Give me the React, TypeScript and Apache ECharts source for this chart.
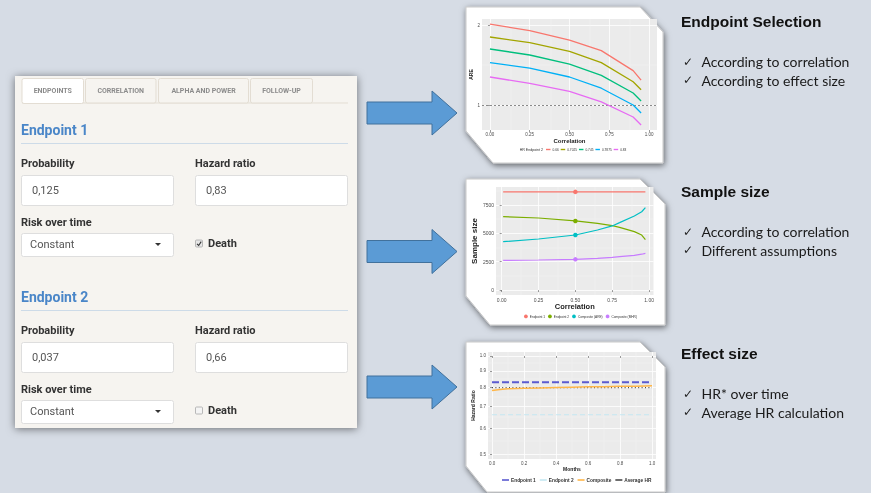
import React, { useEffect, useRef } from "react";
import * as echarts from "echarts";

// ---------- data: chart 1 (ARE vs correlation) ----------
const areCorr = [0, 0.25, 0.5, 0.7, 0.9, 0.95];
const areHR2 = ["0.66", "0.7025", "0.745", "0.7875", "0.83"];
const areValues = [
  [2.01, 1.93, 1.81, 1.68, 1.43, 1.31],
  [1.85, 1.78, 1.67, 1.53, 1.29, 1.19],
  [1.7, 1.625, 1.51, 1.37, 1.15, 1.05],
  [1.53, 1.46, 1.35, 1.21, 1.0, 0.9],
  [1.35, 1.27, 1.17, 1.04, 0.85, 0.75],
];
const areTicksX = [0, 0.25, 0.5, 0.75, 1];
const areTicksY = [1, 2];

// ---------- data: chart 2 (sample size vs correlation) ----------
const ssCorr = [0.01, 0.25, 0.5, 0.65, 0.75, 0.8, 0.9, 0.95, 0.975];
const ssNames = ["Endpoint 1", "Endpoint 2", "Composite (ARE)", "Composite (MHR)"];
const ssEndpoint1 = [8650, 8650, 8650, 8650, 8650, 8650, 8650, 8650, 8650];
const ssEndpoint2 = [6470, 6350, 6090, 5880, 5680, 5530, 5150, 4850, 4450];
const ssCompARE = [4265, 4500, 4850, 5290, 5650, 5940, 6530, 6900, 7265];
const ssCompMHR = [2620, 2650, 2710, 2790, 2880, 2940, 3060, 3160, 3240];
const ssTicksX = [0, 0.25, 0.5, 0.75, 1];
const ssTicksY = [0, 2500, 5000, 7500];

// ---------- data: chart 3 (hazard ratio over time) ----------
const hrMonths = [0, 0.05, 0.1, 0.2, 0.3, 0.4, 0.5, 0.6, 0.7, 0.8, 0.9, 1.0];
const hrComposite = [0.783, 0.789, 0.793, 0.796, 0.798, 0.8, 0.802, 0.804, 0.805, 0.807, 0.808, 0.81];
const hrEndpoint1 = [0.83, 0.83];
const hrEndpoint2 = [0.66, 0.66];
const hrAverage = [0.8, 0.8];
const hrSpan = [0, 1];
const hrNames = ["Endpoint 1", "Endpoint 2", "Composite", "Average HR"];
const hrTicksX = [0, 0.2, 0.4, 0.6, 0.8, 1.0];
const hrTicksY = [0.5, 0.6, 0.7, 0.8, 0.9, 1.0];

const W = 871;
const H = 493;

const C1 = ["#F8766D", "#A3A500", "#00BF7D", "#00B0F6", "#E76BF3"];
const C2 = ["#F8766D", "#7CAE00", "#00BFC4", "#C77CFF"];
const C3 = ["#5b5bd0", "#c5e8f2", "#ffb648", "#4a4a4a"];

const ROBOTO = "Roboto, 'Noto Sans', sans-serif";
const SANS = "'Liberation Sans', Arial, sans-serif";
const LATO = "Lato, 'DejaVu Sans', sans-serif";

function text(x: number, y: number, t: string, o: any = {}) {
  return {
    type: "text",
    z: 20,
    x,
    y,
    style: {
      text: t,
      fill: o.fill || "#333",
      fontSize: o.size || 11,
      fontWeight: o.weight || "normal",
      fontFamily: o.family || ROBOTO,
      align: o.align || "left",
      verticalAlign: "middle",
    },
  };
}

function rect(x: number, y: number, w: number, h: number, style: any, z = 5, r = 0) {
  return { type: "rect", z, shape: { x, y, width: w, height: h, r }, style };
}

function endpointBlock(title: string, dy: number, prob: string, hr: string, death: boolean) {
  const els: any[] = [];
  els.push(text(21, 130 + dy, title, { size: 14, weight: "bold", fill: "#4a86c8" }));
  els.push({ type: "line", z: 5, shape: { x1: 21, y1: 143.5 + dy, x2: 348, y2: 143.5 + dy }, style: { stroke: "#cddbe8", lineWidth: 1 } });
  els.push(text(21, 163.5 + dy, "Probability", { weight: "bold", fill: "#333" }));
  els.push(text(195, 163.5 + dy, "Hazard ratio", { weight: "bold", fill: "#333" }));
  els.push(rect(21.5, 175.5 + dy, 152, 30, { fill: "#fff", stroke: "#dedede", lineWidth: 1 }, 5, 2));
  els.push(rect(195.5, 175.5 + dy, 152, 30, { fill: "#fff", stroke: "#dedede", lineWidth: 1 }, 5, 2));
  els.push(text(32, 190.5 + dy, prob, { fill: "#555" }));
  els.push(text(206, 190.5 + dy, hr, { fill: "#555" }));
  els.push(text(21, 222.5 + dy, "Risk over time", { weight: "bold", fill: "#333" }));
  els.push(rect(21.5, 233.5 + dy, 152, 23, { fill: "#fff", stroke: "#dedede", lineWidth: 1 }, 5, 2));
  els.push(text(30, 244.5 + dy, "Constant", { fill: "#555" }));
  els.push({ type: "polygon", z: 6, shape: { points: [[155, 243 + dy], [161, 243 + dy], [158, 246 + dy]] }, style: { fill: "#333" } });
  els.push(rect(195.5, 240 + dy, 7, 7, { fill: death ? "#e6e6e6" : "#f4f4f4", stroke: "#a8a8a8", lineWidth: 0.8 }, 5, 1));
  if (death) {
    els.push({ type: "polyline", z: 6, shape: { points: [[197, 243.8 + dy], [198.7, 245.5 + dy], [201.2, 241.6 + dy]] }, style: { stroke: "#333", lineWidth: 1.1, fill: null } });
  }
  els.push(text(208, 243 + dy, "Death", { weight: "bold", fill: "#333" }));
  return els;
}

function arrow(cy: number) {
  return {
    type: "polygon",
    z: 4,
    shape: {
      points: [
        [367, cy - 11], [432, cy - 11], [432, cy - 22], [457, cy],
        [432, cy + 22], [432, cy + 11], [367, cy + 11],
      ],
    },
    style: { fill: "#5b9bd5", stroke: "#41719c", lineWidth: 1 },
  };
}

function card(top: number, bottom: number, cutBL: number, right: number) {
  return {
    type: "polygon",
    z: -5,
    shape: {
      points: [
        [466, top], [640, top], [right, top + 25], [right, bottom],
        [466 + cutBL, bottom], [466, bottom - cutBL - 5],
      ],
    },
    style: {
      fill: "#ffffff",
      stroke: "#c9c9c9",
      lineWidth: 1,
      shadowBlur: 6,
      shadowColor: "rgba(0,0,0,0.55)",
      shadowOffsetX: 1,
      shadowOffsetY: 2,
    },
  };
}

function buildGraphics() {
  const g: any[] = [];
  g.push(rect(0, 0, W, H, { fill: "#d6dce5" }, -100));
  // form panel
  g.push(rect(15, 76, 342, 352, { fill: "#f6f4f0", shadowBlur: 9, shadowColor: "rgba(0,0,0,0.5)", shadowOffsetY: 1 }, -20));
  // tabs
  g.push({ type: "line", z: 4, shape: { x1: 22, y1: 103, x2: 348, y2: 103 }, style: { stroke: "#e3ddd3", lineWidth: 1 } });
  const tabs: [string, number, number][] = [
    ["ENDPOINTS", 22, 61.5],
    ["CORRELATION", 85.5, 70.5],
    ["ALPHA AND POWER", 158.5, 90],
    ["FOLLOW-UP", 250.5, 62],
  ];
  tabs.forEach(([t, x, w], i) => {
    g.push(rect(x, 78.5, w, i === 0 ? 25 : 24.5, { fill: i === 0 ? "#ffffff" : "#f6f4f0", stroke: "#e3ddd3", lineWidth: 1 }, 5, 2));
    g.push(text(x + w / 2, 90.7, t, { size: 7, weight: "bold", fill: "#8c8c8c", align: "center" }));
  });
  g.push(...endpointBlock("Endpoint 1", 0, "0,125", "0,83", true));
  g.push(...endpointBlock("Endpoint 2", 167, "0,037", "0,66", false));
  // arrows
  g.push(arrow(113), arrow(251.5), arrow(387));
  // cards
  g.push(card(7, 163, 27, 663));
  g.push(card(179, 325, 24, 665));
  g.push(card(342, 492, 21, 665));
  // legend title for chart 1
  g.push(text(543, 149.8, "HR Endpoint 2", { size: 3.6, fill: "#333", family: SANS, align: "right" }));
  // right texts
  const blocks: [string, number, string[]][] = [
    ["Endpoint Selection", 21.5, ["According to correlation", "According to effect size"]],
    ["Sample size", 191.5, ["According to correlation", "Different assumptions"]],
    ["Effect size", 353.5, ["HR* over time", "Average HR calculation"]],
  ];
  blocks.forEach(([t, y, items]) => {
    g.push(text(681, y, t, { size: 15.5, weight: "bold", fill: "#111", family: SANS }));
    items.forEach((it, k) => {
      const yy = y + 40 + k * 18.5;
      g.push(text(683, yy, "✓", { size: 12, fill: "#222", family: "'DejaVu Sans', sans-serif" }));
      g.push(text(701.5, yy, it, { size: 14, fill: "#1a1a1a", family: LATO }));
    });
  });
  return g;
}

const tickLabel = { fontSize: 4.5, color: "#4d4d4d", margin: 2, fontFamily: SANS };
const tickLine = { show: true, length: 2, lineStyle: { color: "#333", width: 0.5 } };
const gridLine = { show: true, lineStyle: { color: "#ffffff", width: 0.8 } };

function minorLines(xs: number[], ys: number[]) {
  return {
    silent: true,
    symbol: "none",
    z: 1,
    animation: false,
    label: { show: false },
    lineStyle: { color: "#f6f6f6", width: 0.4, type: "solid" },
    data: [...xs.map((v) => ({ xAxis: v })), ...ys.map((v) => ({ yAxis: v }))],
  };
}

const mids = (a: number[]) => a.slice(1).map((v, i) => (v + a[i]) / 2);

function buildOption() {
  const ln = (v: number) => Math.log(v);
  const lnTicks = hrTicksY.map(ln);
  const series: any[] = [];

  // chart 1
  areHR2.forEach((name, k) => {
    series.push({
      type: "line",
      name,
      xAxisIndex: 0,
      yAxisIndex: 0,
      symbol: "none",
      z: 3,
      itemStyle: { color: C1[k] },
      lineStyle: { color: C1[k], width: 1.3 },
      data: areCorr.map((c, i) => [c, areValues[k][i]]),
      markLine:
        k === 0
          ? minorLines(mids(areTicksX), mids(areTicksY))
          : k === 1
          ? {
              silent: true,
              symbol: "none",
              z: 2,
              label: { show: false },
              lineStyle: { color: "#8a8a8a", width: 1, type: [2, 2] },
              data: [{ yAxis: 1 }],
            }
          : undefined,
    });
  });

  // chart 2
  const ssData = [ssEndpoint1, ssEndpoint2, ssCompARE, ssCompMHR];
  ssNames.forEach((name, k) => {
    series.push({
      type: "line",
      name: "b|" + name,
      xAxisIndex: 1,
      yAxisIndex: 1,
      showSymbol: true,
      symbol: "none",
      z: 3,
      itemStyle: { color: C2[k] },
      lineStyle: { color: C2[k], width: 1.2 },
      data: ssCorr.map((c, i) =>
        c === 0.5 ? { value: [c, ssData[k][i]], symbol: "circle", symbolSize: 4.5 } : { value: [c, ssData[k][i]] }
      ),
      markLine: k === 0 ? minorLines(mids(ssTicksX), [...mids(ssTicksY), 8750]) : undefined,
    });
  });

  // chart 3
  const hrLines: [string, number[], number[], any][] = [
    [hrNames[0], hrSpan, hrEndpoint1, { width: 2, type: [7, 3] }],
    [hrNames[1], hrSpan, hrEndpoint2, { width: 1.2, type: [5, 3] }],
    [hrNames[2], hrMonths, hrComposite, { width: 1.5, type: "solid" }],
    [hrNames[3], hrSpan, hrAverage, { width: 1.2, type: [1, 2.4] }],
  ];
  hrLines.forEach(([name, xs, ys, ls], k) => {
    series.push({
      type: "line",
      name: "c|" + name,
      xAxisIndex: 2,
      yAxisIndex: 2,
      symbol: "none",
      z: k === 2 ? 4 : 3,
      itemStyle: { color: C3[k] },
      lineStyle: { color: C3[k], ...ls },
      data: xs.map((x, i) => [x, ln(ys[i])]),
      markLine: k === 0 ? minorLines(mids(hrTicksX), mids(lnTicks)) : undefined,
    });
  });

  const fmt2 = (v: number) => v.toFixed(2);
  const fmt1 = (v: number) => v.toFixed(1);

  return {
    animation: false,
    graphic: buildGraphics(),
    grid: [
      { left: 482, top: 19, width: 175, height: 111, show: true, backgroundColor: "#ebebeb", borderWidth: 0 },
      { left: 496, top: 187, width: 157.5, height: 108, show: true, backgroundColor: "#ebebeb", borderWidth: 0 },
      { left: 488, top: 352, width: 168, height: 107, show: true, backgroundColor: "#ebebeb", borderWidth: 0 },
    ],
    xAxis: [
      {
        type: "value", gridIndex: 0, min: -0.05, max: 1.05,
        axisLine: { show: false }, axisTick: { ...tickLine, customValues: areTicksX },
        axisLabel: { ...tickLabel, customValues: areTicksX, formatter: fmt2 },
        splitLine: gridLine,
        name: "Correlation", nameLocation: "middle", nameGap: 6,
        nameTextStyle: { fontSize: 6, fontWeight: "bold", color: "#222", fontFamily: SANS },
      },
      {
        type: "value", gridIndex: 1, min: -0.0385, max: 1.03,
        axisLine: { show: false }, axisTick: { ...tickLine, customValues: ssTicksX },
        axisLabel: { ...tickLabel, fontSize: 5, customValues: ssTicksX, formatter: fmt2 },
        splitLine: gridLine,
        name: "Correlation", nameLocation: "middle", nameGap: 7.5,
        nameTextStyle: { fontSize: 7.5, fontWeight: "bold", color: "#222", fontFamily: SANS },
      },
      {
        type: "value", gridIndex: 2, min: -0.025, max: 1.025,
        axisLine: { show: false }, axisTick: { ...tickLine, customValues: hrTicksX },
        axisLabel: { ...tickLabel, customValues: hrTicksX, formatter: fmt1 },
        splitLine: gridLine,
        name: "Months", nameLocation: "middle", nameGap: 6,
        nameTextStyle: { fontSize: 5, fontWeight: "bold", color: "#222", fontFamily: SANS },
      },
    ],
    yAxis: [
      {
        type: "value", gridIndex: 0, min: 0.6875, max: 2.075,
        axisLine: { show: false }, axisTick: { ...tickLine, customValues: areTicksY },
        axisLabel: { ...tickLabel, customValues: areTicksY, formatter: (v: number) => String(v) },
        splitLine: gridLine,
        name: "ARE", nameLocation: "middle", nameGap: 8,
        nameTextStyle: { fontSize: 5, fontWeight: "bold", color: "#222", fontFamily: SANS },
      },
      {
        type: "value", gridIndex: 1, min: -432, max: 9080,
        axisLine: { show: false }, axisTick: { ...tickLine, customValues: ssTicksY },
        axisLabel: { ...tickLabel, fontSize: 5, customValues: ssTicksY, formatter: (v: number) => String(Math.round(v)) },
        splitLine: gridLine,
        name: "Sample size", nameLocation: "middle", nameGap: 16,
        nameTextStyle: { fontSize: 8, fontWeight: "bold", color: "#222", fontFamily: SANS },
      },
      {
        type: "value", gridIndex: 2, min: -0.728, max: 0.028,
        axisLine: { show: false }, axisTick: { ...tickLine, customValues: lnTicks },
        axisLabel: { ...tickLabel, customValues: lnTicks, formatter: (v: number) => Math.exp(v).toFixed(1) },
        splitLine: gridLine,
        name: "Hazard Ratio", nameLocation: "middle", nameGap: 10,
        nameTextStyle: { fontSize: 5, fontWeight: "bold", color: "#222", fontFamily: SANS },
      },
    ],
    legend: [
      {
        left: 546, top: 148, padding: 0, itemGap: 2, itemWidth: 4.5, itemHeight: 1.4, icon: "rect",
        selectedMode: false, data: areHR2,
        textStyle: { fontSize: 3.2, color: "#333", fontFamily: SANS, padding: [0, 0, 0, -3] },
      },
      {
        left: 524, top: 314.5, padding: 0, itemGap: 3, itemWidth: 3.8, itemHeight: 3.8, icon: "circle",
        selectedMode: false, data: ssNames.map((n) => "b|" + n),
        formatter: (n: string) => n.split("|").pop(),
        textStyle: { fontSize: 3.2, color: "#333", fontFamily: SANS, padding: [0, 0, 0, -3] },
      },
      {
        left: 502, top: 477.5, padding: 0, itemGap: 4, itemWidth: 7, itemHeight: 1.6, icon: "rect",
        selectedMode: false, data: hrNames.map((n) => "c|" + n),
        formatter: (n: string) => n.split("|").pop(),
        textStyle: { fontSize: 4.8, fontWeight: "bold", color: "#333", fontFamily: SANS, padding: [0, 0, 0, -3] },
      },
    ],
    series,
  };
}

export default function App() {
  const ref = useRef<HTMLDivElement>(null);
  useEffect(() => {
    if (!ref.current) return;
    const chart = echarts.init(ref.current, null, { renderer: "svg", width: W, height: H });
    chart.setOption(buildOption() as any);
    return () => chart.dispose();
  }, []);
  return (
    <div style={{ position: "fixed", left: 0, top: 0, width: W, height: H, overflow: "hidden" }}>
      <div ref={ref} style={{ width: W, height: H }} />
    </div>
  );
}
